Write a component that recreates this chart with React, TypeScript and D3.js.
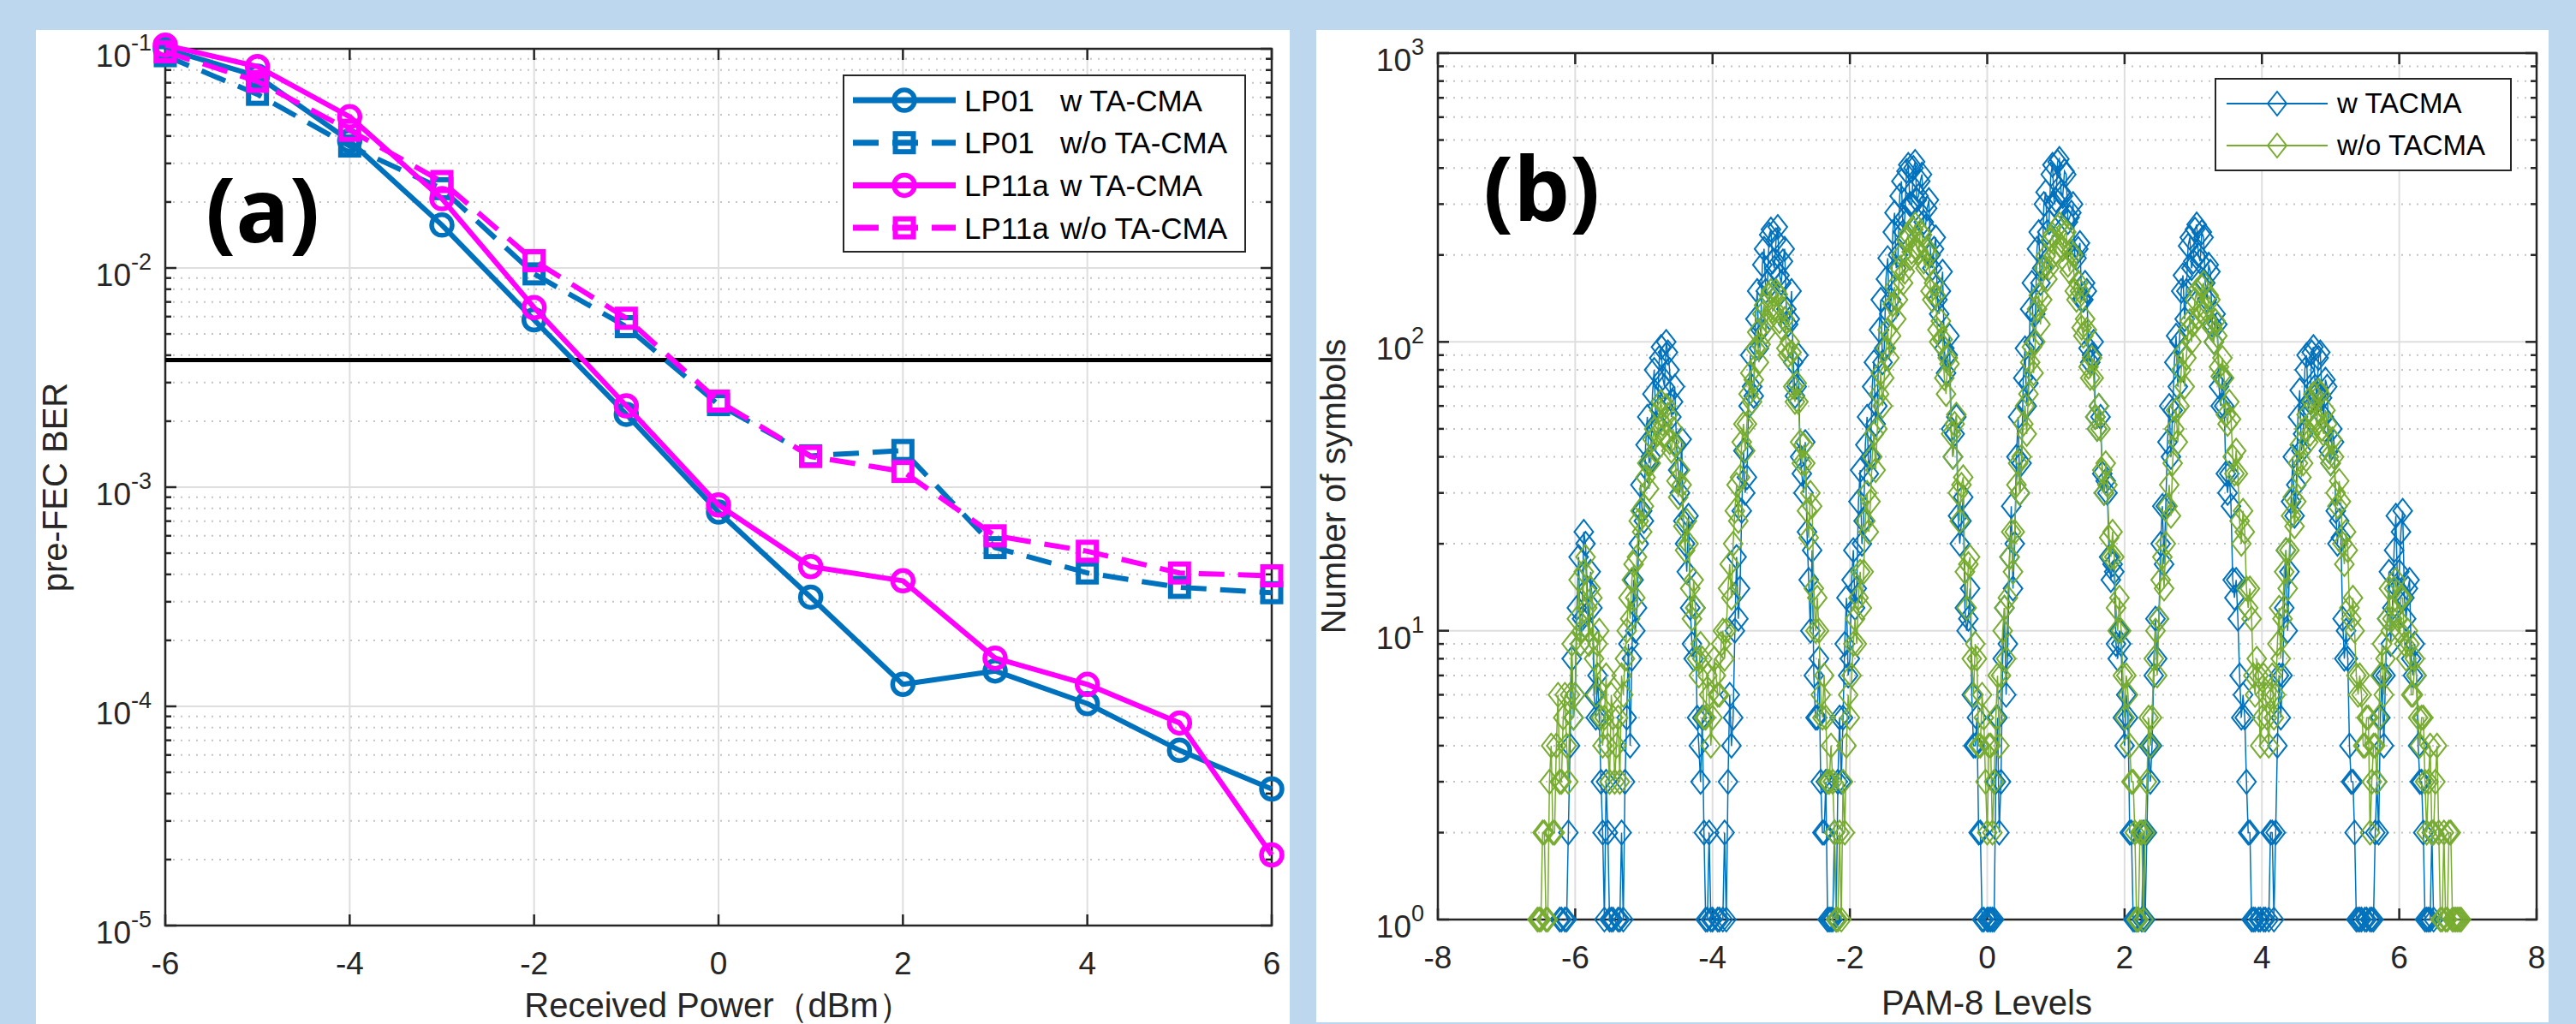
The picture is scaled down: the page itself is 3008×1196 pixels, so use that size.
import React, { useEffect, useRef } from 'react';
import * as d3 from 'd3';

const WIDTH = 3008;
const HEIGHT = 1196;
const FONT = '"Liberation Sans", Arial, Helvetica, sans-serif';
const AXIS = '#262626';
const BLUE = '#0072BD';
const MAGENTA = '#FF00FF';
const GREEN = '#77AC30';

// (a) pre-FEC BER vs received power
const powerDbm = [-6, -5, -4, -3, -2, -1, 0, 1, 2, 3, 4, 5, 6];
const berLp01With = [0.1, 0.075, 0.038, 0.0157, 0.0058, 0.00215, 0.00077, 0.000315, 0.000126, 0.000145, 0.000103, 0.000063, 0.000042];
const berLp01Without = [0.093, 0.062, 0.036, 0.023, 0.0094, 0.0054, 0.00238, 0.00139, 0.00147, 0.00053, 0.000406, 0.000349, 0.00033];
const berLp11aWith = [0.104, 0.083, 0.049, 0.0207, 0.0066, 0.00235, 0.00083, 0.000434, 0.000374, 0.000166, 0.000126, 0.000084, 0.000021];
const berLp11aWithout = [0.097, 0.071, 0.0425, 0.0248, 0.0108, 0.0059, 0.00247, 0.00138, 0.00118, 0.0006, 0.00051, 0.000406, 0.000394];
const fecThreshold = 3.8e-3;
const powerTicks = [-6, -4, -2, 0, 2, 4, 6];
const berExponents = [-5, -4, -3, -2, -1];
const modeNames = ['LP01', 'LP01', 'LP11a', 'LP11a'];
const tacmaNames = ['w TA-CMA', 'w/o TA-CMA', 'w TA-CMA', 'w/o TA-CMA'];

// (b) symbol histogram, bins of 0.025 starting at -6.6 (one row = 0.5)
const binStart = -6.6;
const binWidth = 0.025;
const countsWith = [
  0, 0, 0, 0, 0, 0, 0, 0, 0, 0, 0, 0, 0, 0, 0, 1, 1, 0, 1, 1,
  2, 4, 8, 5, 6, 12, 18, 9, 11, 22, 20, 14, 10, 16, 12, 6, 5, 7, 5, 3,
  2, 1, 3, 2, 1, 1, 1, 0, 0, 1, 1, 2, 1, 3, 5, 9, 4, 8, 15, 10,
  12, 20, 32, 26, 24, 44, 55, 38, 40, 66, 80, 52, 60, 88, 96, 75, 70, 100, 92, 80,
  55, 62, 70, 44, 36, 30, 46, 24, 20, 16, 25, 12, 9, 8, 12, 5, 4, 3, 5, 2,
  1, 1, 2, 1, 1, 0, 0, 1, 1, 0, 1, 2, 1, 3, 6, 4, 5, 10, 18, 11,
  14, 26, 42, 30, 34, 60, 90, 70, 65, 120, 150, 95, 110, 185, 210, 150, 160, 235, 245, 190,
  180, 225, 250, 170, 160, 190, 210, 130, 115, 120, 150, 85, 65, 70, 90, 40, 35, 30, 45, 22,
  15, 10, 19, 7, 5, 5, 8, 3, 2, 2, 3, 1, 1, 1, 1, 2, 1, 3, 5, 3,
  5, 9, 13, 7, 8, 15, 19, 12, 14, 28, 36, 20, 24, 44, 55, 35, 40, 70, 85, 52,
  60, 110, 140, 85, 95, 165, 195, 125, 140, 240, 280, 180, 200, 320, 360, 240, 270, 390, 410, 300,
  300, 400, 420, 310, 320, 360, 380, 260, 250, 290, 310, 200, 180, 210, 230, 140, 125, 150, 175, 95,
  78, 90, 105, 50, 40, 48, 55, 25, 20, 24, 29, 12, 10, 11, 14, 6, 4, 4, 5, 2,
  2, 1, 1, 0, 1, 1, 1, 1, 1, 3, 5, 2, 3, 8, 12, 6, 9, 18, 27, 14,
  20, 40, 55, 30, 38, 75, 95, 60, 72, 130, 160, 100, 125, 210, 240, 160, 180, 300, 330, 240,
  260, 380, 410, 300, 310, 420, 430, 330, 320, 390, 380, 260, 270, 280, 300, 200, 195, 210, 220, 140,
  140, 160, 150, 95, 85, 90, 100, 55, 50, 60, 55, 35, 30, 33, 30, 18, 15, 17, 16, 9,
  8, 10, 9, 5, 4, 6, 5, 2, 2, 1, 1, 1, 1, 0, 1, 2, 1, 2, 4, 3,
  4, 7, 11, 8, 11, 20, 27, 17, 27, 45, 60, 40, 58, 85, 105, 70, 100, 150, 170, 120,
  150, 215, 230, 180, 190, 245, 255, 200, 190, 240, 230, 160, 140, 185, 175, 115, 100, 125, 115, 70,
  60, 75, 60, 35, 30, 35, 27, 15, 13, 15, 11, 7, 5, 6, 5, 3, 2, 2, 1, 1,
  1, 0, 1, 1, 0, 1, 1, 0, 1, 2, 2, 1, 2, 4, 7, 5, 7, 12, 19, 10,
  16, 28, 40, 25, 32, 55, 68, 42, 48, 80, 90, 58, 62, 92, 96, 70, 66, 88, 92, 64,
  55, 74, 70, 42, 38, 50, 45, 26, 20, 24, 21, 11, 8, 10, 8, 4, 3, 3, 2, 1,
  1, 1, 1, 0, 1, 1, 0, 1, 1, 1, 2, 3, 2, 5, 7, 4, 7, 11, 16, 9,
  12, 19, 25, 14, 16, 22, 26, 13, 11, 14, 15, 8, 7, 9, 7, 4, 3, 3, 2, 1,
  1, 1, 1, 2, 1, 0, 0, 0, 0, 0, 0, 0, 0, 0, 0, 0, 0, 0, 0, 0,
  0,
];
const countsWithout = [
  0, 0, 1, 1, 1, 2, 2, 1, 1, 3, 4, 2, 2, 4, 6, 3, 3, 5, 6, 4,
  3, 6, 9, 5, 6, 11, 15, 9, 10, 16, 18, 12, 9, 14, 13, 8, 6, 9, 10, 5,
  4, 5, 7, 4, 3, 6, 5, 3, 4, 5, 3, 7, 6, 8, 10, 13, 11, 15, 17, 13,
  18, 24, 26, 22, 27, 34, 38, 31, 38, 46, 50, 42, 48, 58, 62, 52, 48, 60, 56, 45,
  42, 50, 44, 33, 29, 36, 32, 23, 19, 24, 20, 14, 11, 15, 12, 8, 7, 9, 8, 5,
  5, 7, 6, 4, 5, 8, 7, 6, 6, 9, 10, 8, 10, 14, 17, 13, 20, 26, 32, 24,
  34, 45, 52, 42, 52, 66, 78, 62, 74, 95, 108, 85, 98, 125, 134, 108, 118, 145, 150, 128,
  130, 150, 146, 118, 112, 130, 120, 95, 90, 100, 92, 70, 62, 72, 62, 45, 38, 44, 38, 26,
  21, 30, 27, 14, 10, 13, 10, 6, 5, 7, 5, 3, 3, 4, 3, 2, 1, 1, 2, 1,
  3, 2, 4, 6, 5, 7, 9, 11, 9, 13, 16, 12, 16, 24, 30, 22, 28, 40, 48, 36,
  50, 66, 78, 60, 75, 95, 110, 88, 105, 135, 155, 120, 140, 180, 200, 160, 175, 225, 236, 195,
  205, 245, 255, 210, 205, 240, 235, 190, 180, 210, 200, 150, 140, 160, 145, 110, 100, 118, 102, 75,
  66, 88, 84, 48, 40, 52, 56, 30, 24, 32, 34, 16, 12, 17, 18, 8, 6, 9, 8, 4,
  4, 6, 5, 3, 2, 4, 4, 2, 3, 5, 7, 4, 7, 10, 12, 8, 13, 18, 22, 16,
  22, 32, 38, 30, 40, 52, 60, 48, 66, 85, 96, 78, 100, 130, 145, 115, 140, 180, 198, 165,
  180, 225, 235, 200, 205, 250, 255, 215, 210, 235, 240, 185, 175, 205, 200, 150, 140, 160, 150, 112,
  105, 120, 110, 82, 75, 88, 75, 55, 50, 60, 50, 36, 30, 38, 32, 21, 18, 22, 18, 12,
  10, 13, 10, 7, 5, 7, 6, 4, 3, 3, 2, 1, 1, 2, 2, 1, 2, 3, 5, 4,
  5, 8, 10, 7, 11, 15, 18, 14, 20, 27, 32, 25, 38, 50, 58, 45, 60, 80, 92, 70,
  88, 110, 118, 100, 115, 140, 150, 122, 128, 155, 160, 130, 120, 145, 140, 112, 100, 118, 105, 82,
  76, 88, 75, 56, 52, 62, 54, 40, 35, 42, 35, 24, 20, 26, 22, 14, 12, 14, 11, 7,
  6, 8, 7, 4, 5, 7, 6, 5, 4, 6, 7, 5, 6, 9, 12, 8, 11, 16, 19, 14,
  19, 25, 29, 23, 28, 38, 44, 34, 38, 50, 56, 45, 48, 62, 66, 55, 52, 68, 66, 50,
  48, 58, 52, 40, 38, 46, 40, 30, 27, 33, 28, 20, 17, 22, 19, 12, 11, 13, 10, 7,
  6, 7, 6, 4, 4, 5, 5, 2, 3, 4, 4, 3, 5, 7, 9, 6, 8, 11, 14, 10,
  11, 14, 15, 11, 10, 13, 13, 9, 8, 10, 9, 6, 6, 8, 7, 5, 4, 5, 5, 3,
  2, 3, 4, 2, 2, 3, 4, 2, 1, 1, 2, 1, 1, 2, 2, 1, 1, 1, 1, 1,
  1,
];
const levelTicks = [-8, -6, -4, -2, 0, 2, 4, 6, 8];
const countExponents = [0, 1, 2, 3];
const histNames = ['w TACMA', 'w/o TACMA'];

type Sel = d3.Selection<SVGGElement, unknown, null, undefined>;

function drawAxes(g: Sel, x: d3.ScaleLinear<number, number>, y: d3.ScaleLogarithmic<number, number>, xTicks: number[], yExps: number[]) {
  const [left, right] = x.range();
  const [bottom, top] = y.range();
  const isDecade = (v: number) => Math.abs(Math.log10(v) - Math.round(Math.log10(v))) < 1e-6;
  const minor = y.ticks().filter(v => !isDecade(v));

  // minor grid (dotted)
  g.append('g').selectAll('line').data(minor).join('line')
    .attr('x1', left).attr('x2', right)
    .attr('y1', d => y(d)).attr('y2', d => y(d))
    .attr('stroke', '#c4c4c4').attr('stroke-width', 2).attr('stroke-dasharray', '2 7');
  // major grid
  g.append('g').selectAll('line').data(yExps.slice(1, -1)).join('line')
    .attr('x1', left).attr('x2', right)
    .attr('y1', d => y(10 ** d)).attr('y2', d => y(10 ** d))
    .attr('stroke', '#dedede').attr('stroke-width', 2);
  g.append('g').selectAll('line').data(xTicks.slice(1, -1)).join('line')
    .attr('x1', d => x(d)).attr('x2', d => x(d))
    .attr('y1', top).attr('y2', bottom)
    .attr('stroke', '#dedede').attr('stroke-width', 2);

  // box
  g.append('rect')
    .attr('x', left).attr('y', top).attr('width', right - left).attr('height', bottom - top)
    .attr('fill', 'none').attr('stroke', AXIS).attr('stroke-width', 2.5);

  // ticks, inside, on all four sides
  const tk = g.append('g').attr('stroke', AXIS).attr('stroke-width', 2.5);
  xTicks.forEach(v => {
    tk.append('line').attr('x1', x(v)).attr('x2', x(v)).attr('y1', bottom).attr('y2', bottom - 13);
    tk.append('line').attr('x1', x(v)).attr('x2', x(v)).attr('y1', top).attr('y2', top + 13);
  });
  yExps.forEach(e => {
    tk.append('line').attr('x1', left).attr('x2', left + 13).attr('y1', y(10 ** e)).attr('y2', y(10 ** e));
    tk.append('line').attr('x1', right).attr('x2', right - 13).attr('y1', y(10 ** e)).attr('y2', y(10 ** e));
  });
  minor.forEach(v => {
    tk.append('line').attr('x1', left).attr('x2', left + 7).attr('y1', y(v)).attr('y2', y(v));
    tk.append('line').attr('x1', right).attr('x2', right - 7).attr('y1', y(v)).attr('y2', y(v));
  });

  // tick labels
  g.append('g').selectAll('text').data(xTicks).join('text')
    .attr('x', d => x(d)).attr('y', bottom + 57)
    .attr('text-anchor', 'middle')
    .attr('font-family', FONT).attr('font-size', 37).attr('fill', AXIS)
    .text(d => String(d));
  const yl = g.append('g').selectAll('text').data(yExps).join('text')
    .attr('x', left - 16).attr('y', d => y(10 ** d) + 21)
    .attr('text-anchor', 'end')
    .attr('font-family', FONT).attr('font-size', 37).attr('fill', AXIS);
  yl.append('tspan').text('10');
  yl.append('tspan').attr('dy', -19).attr('font-size', 27).text(d => String(d));
}

export default function App() {
  const ref = useRef<SVGSVGElement>(null);

  useEffect(() => {
    const svg = d3.select(ref.current);
    svg.selectAll('*').remove();

    svg.append('rect').attr('width', WIDTH).attr('height', HEIGHT).attr('fill', '#BDD7EE');
    svg.append('rect').attr('x', 42).attr('y', 35).attr('width', 1464).attr('height', 1161).attr('fill', '#fff');
    svg.append('rect').attr('x', 1537).attr('y', 35).attr('width', 1439).attr('height', 1159).attr('fill', '#fff');

    // ---------- panel (a) ----------
    const xA = d3.scaleLinear().domain([-6, 6]).range([193, 1485]);
    const yA = d3.scaleLog().domain([1e-5, 1e-1]).range([1081, 57]);
    const gA = svg.append('g') as unknown as Sel;
    drawAxes(gA, xA, yA, powerTicks, berExponents);

    gA.append('line')
      .attr('x1', xA(-6)).attr('x2', xA(6))
      .attr('y1', yA(fecThreshold)).attr('y2', yA(fecThreshold))
      .attr('stroke', '#000').attr('stroke-width', 5);

    const seriesA = [
      { values: berLp01With, color: BLUE, dashed: false, marker: 'circle' },
      { values: berLp01Without, color: BLUE, dashed: true, marker: 'square' },
      { values: berLp11aWith, color: MAGENTA, dashed: false, marker: 'circle' },
      { values: berLp11aWithout, color: MAGENTA, dashed: true, marker: 'square' },
    ];
    const lineA = d3.line<number>().x((_, i) => xA(powerDbm[i])).y(d => yA(d));

    const drawMarker = (g: any, kind: string, cx: number, cy: number, color: string) => {
      if (kind === 'circle') {
        g.append('circle').attr('cx', cx).attr('cy', cy).attr('r', 12)
          .attr('fill', 'none').attr('stroke', color).attr('stroke-width', 5.5);
      } else {
        g.append('rect').attr('x', cx - 10.5).attr('y', cy - 10.5).attr('width', 21).attr('height', 21)
          .attr('fill', 'none').attr('stroke', color).attr('stroke-width', 6);
      }
    };

    seriesA.forEach(s => {
      const gs = gA.append('g');
      gs.append('path').attr('d', lineA(s.values))
        .attr('fill', 'none').attr('stroke', s.color).attr('stroke-width', 6)
        .attr('stroke-linejoin', 'round')
        .attr('stroke-dasharray', s.dashed ? '30 16' : null);
      s.values.forEach((v, i) => drawMarker(gs, s.marker, xA(powerDbm[i]), yA(v), s.color));
    });

    // legend (a)
    const legA = gA.append('g');
    legA.append('rect').attr('x', 985).attr('y', 88).attr('width', 469).attr('height', 206)
      .attr('fill', '#fff').attr('stroke', AXIS).attr('stroke-width', 2);
    seriesA.forEach((s, i) => {
      const cy = 117 + i * 49.7;
      legA.append('line').attr('x1', 996).attr('x2', 1116).attr('y1', cy).attr('y2', cy)
        .attr('stroke', s.color).attr('stroke-width', 7)
        .attr('stroke-dasharray', s.dashed ? '30 16' : null);
      drawMarker(legA, s.marker, 1056, cy, s.color);
      legA.append('text').attr('x', 1126).attr('y', cy + 12.5)
        .attr('font-family', FONT).attr('font-size', 35).attr('fill', '#000').text(modeNames[i]);
      legA.append('text').attr('x', 1238).attr('y', cy + 12.5)
        .attr('font-family', FONT).attr('font-size', 35).attr('fill', '#000').text(tacmaNames[i]);
    });

    gA.append('text').attr('x', 839).attr('y', 1188).attr('text-anchor', 'middle')
      .attr('font-family', FONT).attr('font-size', 40).attr('fill', AXIS).text('Received Power（dBm）');
    gA.append('text').attr('transform', 'translate(78,569) rotate(-90)').attr('text-anchor', 'middle')
      .attr('font-family', FONT).attr('font-size', 40).attr('fill', AXIS).text('pre-FEC BER');
    gA.append('text').attr('x', 240).attr('y', 283)
      .attr('font-family', '"Open Sans", sans-serif').attr('font-weight', 700).attr('font-size', 104)
      .attr('fill', '#000').text('(a)');

    // ---------- panel (b) ----------
    const xB = d3.scaleLinear().domain([-8, 8]).range([1679, 2962]);
    const yB = d3.scaleLog().domain([1, 1000]).range([1074, 62]);
    const gB = svg.append('g') as unknown as Sel;
    drawAxes(gB, xB, yB, levelTicks, countExponents);

    const diamond = 'M0,-14L11,0L0,14L-11,0Z';
    const seriesB = [
      { counts: countsWith, color: BLUE },
      { counts: countsWithout, color: GREEN },
    ];
    const lineB = d3.line<number>()
      .defined(c => c > 0)
      .x((_, i) => xB(binStart + i * binWidth))
      .y(c => yB(c));

    seriesB.forEach(s => {
      const gs = gB.append('g');
      gs.append('path').attr('d', lineB(s.counts))
        .attr('fill', 'none').attr('stroke', s.color).attr('stroke-width', 1.5);
      gs.selectAll('path.mk')
        .data(s.counts.map((c, i) => ({ c, i })).filter(d => d.c > 0))
        .join('path').attr('class', 'mk')
        .attr('d', diamond)
        .attr('transform', d => `translate(${xB(binStart + d.i * binWidth)},${yB(d.c)})`)
        .attr('fill', 'none').attr('stroke', s.color).attr('stroke-width', 2);
    });

    // legend (b)
    const legB = gB.append('g');
    legB.append('rect').attr('x', 2587).attr('y', 92).attr('width', 345).attr('height', 107)
      .attr('fill', '#fff').attr('stroke', AXIS).attr('stroke-width', 2);
    seriesB.forEach((s, i) => {
      const cy = 121 + i * 49;
      legB.append('line').attr('x1', 2600).attr('x2', 2718).attr('y1', cy).attr('y2', cy)
        .attr('stroke', s.color).attr('stroke-width', 1.8);
      legB.append('path').attr('d', diamond).attr('transform', `translate(2659,${cy})`)
        .attr('fill', 'none').attr('stroke', s.color).attr('stroke-width', 2);
      legB.append('text').attr('x', 2729).attr('y', cy + 11)
        .attr('font-family', FONT).attr('font-size', 33).attr('fill', '#000').text(histNames[i]);
    });

    gB.append('text').attr('x', 2320).attr('y', 1185).attr('text-anchor', 'middle')
      .attr('font-family', FONT).attr('font-size', 40).attr('fill', AXIS).text('PAM-8 Levels');
    gB.append('text').attr('transform', 'translate(1571,568) rotate(-90)').attr('text-anchor', 'middle')
      .attr('font-family', FONT).attr('font-size', 40).attr('fill', AXIS).text('Number of symbols');
    gB.append('text').attr('x', 1732).attr('y', 258)
      .attr('font-family', '"Open Sans", sans-serif').attr('font-weight', 700).attr('font-size', 104)
      .attr('fill', '#000').text('(b)');
  }, []);

  return (
    <svg ref={ref} width={WIDTH} height={HEIGHT}
      style={{ position: 'absolute', left: 0, top: 0, display: 'block' }} />
  );
}
